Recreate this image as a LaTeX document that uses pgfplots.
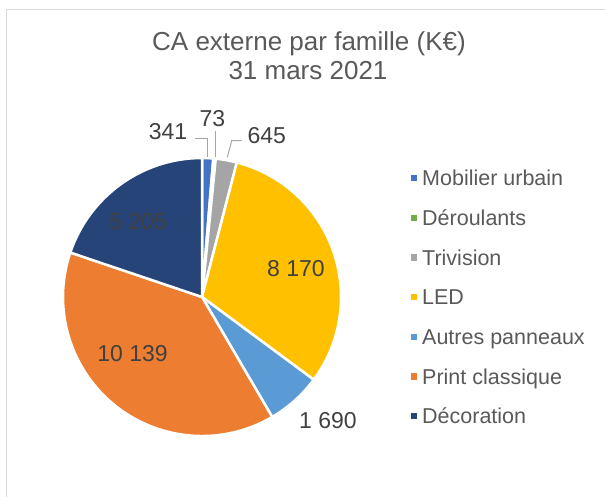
\documentclass[border=0pt]{standalone}
\usepackage{fontspec}
\setmainfont{Liberation Sans}
\usepackage{pgfplots}
\usepackage{pgfplotstable}
\pgfplotsset{compat=1.18}
\definecolor{c1}{HTML}{4472C4}
\definecolor{c2}{HTML}{70AD47}
\definecolor{c3}{HTML}{A5A5A5}
\definecolor{c4}{HTML}{FFC000}
\definecolor{c5}{HTML}{5B9BD5}
\definecolor{c6}{HTML}{ED7D31}
\definecolor{c7}{HTML}{264478}
\definecolor{titlegray}{HTML}{595959}
\definecolor{labgray}{HTML}{404040}
\definecolor{leadgray}{HTML}{A6A6A6}
\definecolor{framegray}{HTML}{D9D9D9}

\pgfplotstableread[col sep=comma]{
name,value,col,lx,ly
Mobilier urbain,341,c1,-34,165.7
Déroulants,73,c2,10.5,178.2
Trivision,645,c3,64.7,161.5
LED,8170,c4,94,28
Autres panneaux,1690,c5,126,-124
Print classique,10139,c6,-69.5,-56.5
Décoration,5205,c7,-64,75.5
}\pietable

\pgfkeys{/pgf/number format/.cd, fixed, precision=0, 1000 sep={\ }, assume math mode=true}

\begin{document}
\begin{tikzpicture}
\begin{axis}[
  hide axis, scale only axis, clip=false,
  x=1pt, y=1pt,
  xmin=-202, xmax=403, ymin=-199, ymax=297,
]
% frame
\draw[framegray, line width=1pt] (axis cs:-195.5,-260) -- (axis cs:-195.5,287.5) -- (axis cs:450,287.5);
% title
\node[anchor=base, text=titlegray, font=\fontsize{26}{30}\selectfont, inner sep=0pt] at (axis cs:107,246) {CA externe par famille (K€)};
\node[anchor=base, text=titlegray, font=\fontsize{26}{30}\selectfont, inner sep=0pt] at (axis cs:106,217) {31 mars 2021};
% total (in thousands)
\def\total{0}
\pgfplotsforeachungrouped \i in {0,...,6}{%
  \pgfplotstablegetelem{\i}{value}\of\pietable
  \pgfmathsetmacro{\vv}{\pgfplotsretval/1000}%
  \pgfmathsetmacro{\total}{\total+\vv}%
}
\def\cum{0}
\pgfplotsforeachungrouped \i in {0,...,6}{%
  \pgfplotstablegetelem{\i}{value}\of\pietable \let\v\pgfplotsretval
  \pgfplotstablegetelem{\i}{col}\of\pietable \let\c\pgfplotsretval
  \pgfplotstablegetelem{\i}{name}\of\pietable \let\n\pgfplotsretval
  \pgfplotstablegetelem{\i}{lx}\of\pietable \let\lx\pgfplotsretval
  \pgfplotstablegetelem{\i}{ly}\of\pietable \let\ly\pgfplotsretval
  \pgfmathsetmacro{\vv}{\v/1000}%
  \pgfmathsetmacro{\a}{90-360*\cum/\total}%
  \pgfmathsetmacro{\b}{90-360*(\cum+\vv)/\total}%
  \pgfmathsetmacro{\legy}{118.7-39.6*\i}%
  \pgfmathsetmacro{\legb}{\legy-7.7}%
  \pgfmathsetmacro{\legl}{\legy-3.2}%
  \pgfmathsetmacro{\legu}{\legy+3.2}%
  \edef\temp{%
    \noexpand\fill[\c, draw=white, line width=2.5pt, line join=round] (axis cs:0,0) -- ++(\a:139pt) arc[start angle=\a, end angle=\b, radius=139pt] -- cycle;
    \noexpand\path[fill=\c] (axis cs:208.5,\legl) rectangle (axis cs:214.9,\legu);
    \noexpand\node[anchor=base west, inner sep=0pt, text=titlegray, font=\noexpand\fontsize{21.5}{25}\noexpand\selectfont] at (axis cs:220,\legb) {\n};
  }\temp
  \edef\temp{%
    \noexpand\node[inner sep=0pt, text=labgray, font=\noexpand\fontsize{23}{27}\noexpand\selectfont] at (axis cs:\lx,\ly) {\noexpand\pgfmathprintnumber{\v}};
  }\temp
  \pgfmathsetmacro{\cum}{\cum+\vv}%
}
% leader lines
\draw[leadgray, line width=1pt] (axis cs:-7,158) -- (axis cs:5.7,158) -- (axis cs:5.7,139.7);
\draw[leadgray, line width=1pt] (axis cs:13,166.3) -- (axis cs:13,140.3);
\draw[leadgray, line width=1pt] (axis cs:39.7,156.3) -- (axis cs:29.7,156.3) -- (axis cs:25.3,139.7);
\end{axis}
\pgfresetboundingbox
\useasboundingbox (current axis.south west) rectangle (current axis.north east);
\end{tikzpicture}
\end{document}
